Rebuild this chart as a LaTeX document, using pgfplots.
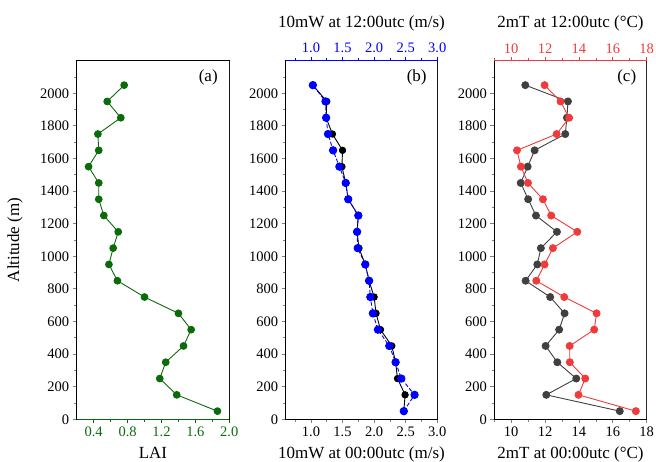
\documentclass[border=0pt]{standalone}
\usepackage{fontspec}
\setmainfont{Liberation Serif}
\usepackage{pgfplots}
\pgfplotsset{compat=1.18}

\definecolor{lgreen}{HTML}{0B6B0B}
\definecolor{lblue}{HTML}{0000FF}
\definecolor{lred}{HTML}{EF3B3B}
\definecolor{dgrey}{HTML}{404040}

\pgfplotsset{
  panel/.style={
    scale only axis, anchor=south west,
    height=358.6pt,
    ymin=0, ymax=2200,
    ytick={0,200,...,2000}, minor ytick={100,300,...,2100},
    ytick pos=left,
    tick align=outside,
    major tick length=4pt, minor tick length=2.5pt,
    tick style={line width=0.8pt},
    axis line style={line width=0.9pt},
    tick label style={font=\fontsize{14.5}{16}\selectfont},
    label style={font=\fontsize{17}{19}\selectfont},
    /pgf/number format/assume math mode=true,
    /pgf/number format/1000 sep={},
    xlabel style={at={(axis description cs:0.5,-0.109)}, anchor=base},
  },
  toppanel/.style={
    scale only axis, anchor=south west,
    height=358.6pt,
    ymin=0, ymax=2200,
    axis x line=top, axis y line=none,
    x axis line style={-, line width=0.9pt},
    tick align=outside,
    major tick length=4pt, minor tick length=2.5pt,
    tick style={line width=0.8pt},
    tick label style={font=\fontsize{14.5}{16}\selectfont},
    label style={font=\fontsize{17}{19}\selectfont},
    /pgf/number format/assume math mode=true,
    xlabel style={at={(axis description cs:0.5,1.092)}, anchor=base, text=black},
  },
  onedec/.style={xticklabel style={/pgf/number format/fixed, /pgf/number format/fixed zerofill, /pgf/number format/precision=1}},
}

\begin{document}
\begin{tikzpicture}
\useasboundingbox (0,0) rectangle (656pt,462pt);

% (a) LAI
\begin{axis}[panel, onedec,
  at={(76.7pt,42.7pt)}, width=152.6pt,
  xmin=0.2, xmax=2.0,
  xtick={0.4,0.8,1.2,1.6,2.0}, minor xtick={0.6,1.0,1.4,1.8},
  xtick pos=bottom,
  xtick style={lgreen}, xticklabel style={lgreen},
  xlabel={LAI}, ylabel={Altitude (m)},
  ylabel style={at={(axis description cs:-0.404,0.5)}, anchor=center},
]
\addplot[lgreen, line width=0.9pt, mark=*, mark size=3.4pt] coordinates {
  (1.86,50) (1.38,150) (1.18,250) (1.25,350) (1.46,450) (1.55,550)
  (1.40,650) (1.00,750) (0.68,850) (0.58,950) (0.63,1050) (0.69,1150)
  (0.52,1250) (0.46,1350) (0.46,1450) (0.34,1550) (0.46,1650) (0.45,1750)
  (0.72,1850) (0.56,1950) (0.76,2050)
};
\draw[lgreen, line width=1pt] (rel axis cs:0,0) -- (rel axis cs:1,0);
\draw[dgrey, line width=1.4pt] (rel axis cs:1,0) -- (rel axis cs:1,1);
\node[font=\fontsize{17}{19}\selectfont] at (rel axis cs:0.862,0.954) {(a)};
\end{axis}

% (b) 10 m wind
\begin{axis}[panel, onedec,
  at={(285.7pt,42.7pt)}, width=151.6pt,
  xmin=0.6, xmax=3.0,
  xtick={1.0,1.5,2.0,2.5,3.0}, minor xtick={0.75,1.25,1.75,2.25,2.75},
  xtick pos=bottom,
  xlabel={10mW at 00:00utc (m/s)},
]
\addplot[black, line width=0.9pt, mark=*, mark size=3.2pt] coordinates {
  (2.47,50) (2.49,150) (2.37,250) (2.34,350) (2.28,450) (2.10,550)
  (2.03,650) (2.00,750) (1.92,850) (1.86,950) (1.76,1050) (1.73,1150)
  (1.75,1250) (1.59,1350) (1.55,1450) (1.49,1550) (1.50,1650) (1.34,1750)
  (1.24,1850) (1.25,1950) (1.03,2050)
};
\draw[dgrey, line width=1.4pt] (rel axis cs:1,0) -- (rel axis cs:1,1);
\node[font=\fontsize{17}{19}\selectfont] at (rel axis cs:0.864,0.954) {(b)};
\end{axis}
\begin{axis}[toppanel, onedec,
  at={(285.7pt,42.7pt)}, width=151.6pt,
  xmin=0.6, xmax=3.0,
  xtick={1.0,1.5,2.0,2.5,3.0}, minor xtick={0.75,1.25,1.75,2.25,2.75},
  x axis line style={lblue}, xtick style={lblue}, xticklabel style={lblue},
  xlabel={10mW at 12:00utc (m/s)},
]
\addplot[lblue, line width=0.9pt, dashed, dash pattern=on 4pt off 2pt,
  mark=*, mark size=3.7pt, mark options={solid}] coordinates {
  (2.47,50) (2.64,150) (2.43,250) (2.34,350) (2.24,450) (2.06,550)
  (1.98,650) (1.94,750) (1.92,850) (1.86,950) (1.74,1050) (1.73,1150)
  (1.75,1250) (1.59,1350) (1.55,1450) (1.45,1550) (1.35,1650) (1.27,1750)
  (1.24,1850) (1.23,1950) (1.03,2050)
};
\end{axis}

% (c) 2 m temperature
\begin{axis}[panel,
  at={(494.3pt,42.7pt)}, width=152.4pt,
  xmin=9, xmax=18,
  xtick={10,12,14,16,18}, minor xtick={9,11,13,15,17},
  xtick pos=bottom,
  xlabel={2mT at 00:00utc (°C)},
]
\addplot[dgrey, line width=0.9pt, mark=*, mark size=3.5pt] coordinates {
  (16.41,50) (12.07,150) (13.84,250) (12.72,350) (12.03,450) (12.83,550)
  (13.15,650) (12.30,750) (10.85,850) (11.54,950) (11.75,1050) (12.70,1150)
  (11.46,1250) (11.00,1350) (10.56,1450) (10.97,1550) (11.38,1650) (13.19,1750)
  (13.29,1850) (13.35,1950) (10.83,2050)
};
\draw[dgrey, line width=1.4pt] (rel axis cs:1,0) -- (rel axis cs:1,1);
\node[font=\fontsize{17}{19}\selectfont] at (rel axis cs:0.869,0.954) {(c)};
\end{axis}
\begin{axis}[toppanel,
  at={(494.3pt,42.7pt)}, width=152.4pt,
  xmin=9, xmax=18,
  xtick={10,12,14,16,18}, minor xtick={9,11,13,15,17},
  x axis line style={lred}, xtick style={lred}, xticklabel style={lred},
  xlabel={2mT at 12:00utc (°C)},
]
\addplot[lred, line width=0.9pt, mark=*, mark size=3.5pt] coordinates {
  (17.36,50) (13.97,150) (14.37,250) (13.46,350) (13.45,450) (14.90,550)
  (15.04,650) (13.13,750) (11.48,850) (11.97,950) (12.46,1050) (13.90,1150)
  (12.36,1250) (11.87,1350) (10.99,1450) (10.57,1550) (10.34,1650) (12.68,1750)
  (13.42,1850) (12.91,1950) (11.97,2050)
};
\end{axis}
\end{tikzpicture}
\end{document}
